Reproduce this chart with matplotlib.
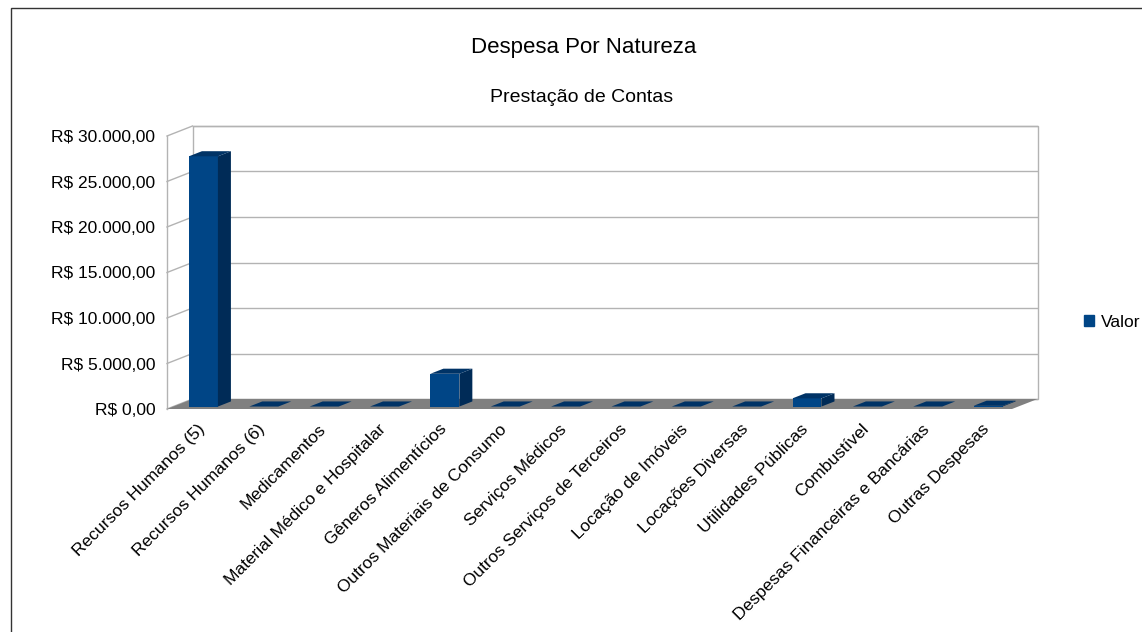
import matplotlib
matplotlib.use("Agg")
import matplotlib.pyplot as plt
from matplotlib.patches import Polygon, Rectangle, Patch

plt.rcParams['font.family'] = ['Liberation Sans', 'DejaVu Sans']

# Data
categories = [
    "Recursos Humanos (5)", "Recursos Humanos (6)", "Medicamentos",
    "Material Médico e Hospitalar", "Gêneros Alimentícios",
    "Outros Materiais de Consumo", "Serviços Médicos",
    "Outros Serviços de Terceiros", "Locação de Imóveis",
    "Locações Diversas", "Utilidades Públicas", "Combustível",
    "Despesas Financeiras e Bancárias", "Outras Despesas",
]
values = [27500, 0, 0, 0, 3600, 0, 0, 0, 0, 0, 900, 0, 0, 80]
y_ticks = [0, 5000, 10000, 15000, 20000, 25000, 30000]
y_labels = ["R$ 0,00", "R$ 5.000,00", "R$ 10.000,00", "R$ 15.000,00",
            "R$ 20.000,00", "R$ 25.000,00", "R$ 30.000,00"]

FRONT = "#004586"
SIDE = "#002b57"
TOP = "#003366"
GRID = "#b3b3b3"
FLOOR = "#808080"

W, H = 1142, 632
fig = plt.figure(figsize=(W / 100, H / 100), dpi=100)
ax = fig.add_axes([167 / W, 223 / H, 845 / W, 273 / H])
n = len(categories)
ax.set_xlim(-0.5, n - 0.5)
ax.set_ylim(0, 30000)
for s in ax.spines.values():
    s.set_visible(False)

# depth vector of the pseudo 3D box, in data units
ddx = 25.5 / (845 / n)
ddy = 10 / (273 / 30000)

# back wall + gridlines
ax.add_patch(Rectangle((-0.5 + ddx, ddy), n, 30000, facecolor="white",
                       edgecolor=GRID, lw=1, clip_on=False, zorder=1))
for t in y_ticks:
    ax.plot([-0.5 + ddx, n - 0.5 + ddx], [t + ddy, t + ddy], color=GRID,
            lw=1, clip_on=False, zorder=1)
    ax.plot([-0.5, -0.5 + ddx], [t, t + ddy], color=GRID, lw=1,
            clip_on=False, zorder=1)
ax.plot([-0.5, -0.5], [0, 30000], color=GRID, lw=1, clip_on=False, zorder=1)

# floor
ax.add_patch(Polygon([(-0.5, 0), (n - 0.5, 0), (n - 0.5 + ddx, ddy),
                      (-0.5 + ddx, ddy)], closed=True, facecolor=FLOOR,
                     edgecolor="none", clip_on=False, zorder=2))

# bars
f1, f2 = 0.245, 0.755
bw = 0.48
dx = (f2 - f1) * ddx
dy = (f2 - f1) * ddy
xs = [i + f1 * ddx for i in range(n)]
ax.bar(xs, values, width=bw, bottom=f1 * ddy, color=FRONT, zorder=3,
       clip_on=False)
for x, v in zip(xs, values):
    x0, x1 = x - bw / 2, x + bw / 2
    y0, y1 = f1 * ddy, f1 * ddy + v
    ax.add_patch(Polygon([(x1, y0), (x1 + dx, y0 + dy), (x1 + dx, y1 + dy),
                          (x1, y1)], closed=True, facecolor=SIDE,
                         edgecolor="none", clip_on=False, zorder=3))
    ax.add_patch(Polygon([(x0, y1), (x1, y1), (x1 + dx, y1 + dy),
                          (x0 + dx, y1 + dy)], closed=True, facecolor=TOP,
                         edgecolor="none", clip_on=False, zorder=3))

# axis labels
ax.set_yticks(y_ticks, labels=y_labels)
ax.tick_params(axis="y", length=0, pad=8.5, labelsize=12.5)
ax.set_xticks(range(n), labels=categories, rotation=45, ha="right",
              rotation_mode="anchor")
ax.tick_params(axis="x", length=0, pad=9, labelsize=12.5)

# titles
fig.text(584 / W, 1 - 48 / H, "Despesa Por Natureza", ha="center",
         va="center", fontsize=16)
fig.text(582 / W, 1 - 98 / H, "Prestação de Contas", ha="center",
         va="center", fontsize=14)

# legend
fig.legend(handles=[Patch(color=FRONT, label="Valor")], loc="center left",
           bbox_to_anchor=(1084 / W, 1 - 322 / H), frameon=False,
           handlelength=0.6, handleheight=0.6, handletextpad=0.35,
           fontsize=12.5, borderaxespad=0, borderpad=0)

# outer border
fig.patches.append(Rectangle((11 / W, -0.1), 1.2, 1 - 8 / H + 0.1,
                             transform=fig.transFigure, fill=False,
                             edgecolor="#333333", lw=1))

fig.savefig("out.png", dpi=100)
